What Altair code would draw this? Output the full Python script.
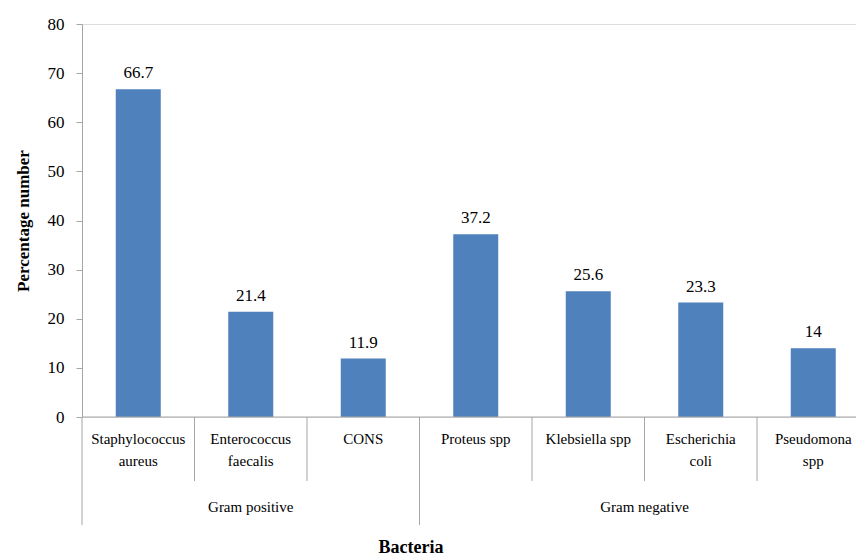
import altair as alt
import pandas as pd

categories = ["Staphylococcus\naureus", "Enterococcus\nfaecalis", "CONS", "Proteus spp",
              "Klebsiella spp", "Escherichia\ncoli", "Pseudomona\nspp"]
values = [66.7, 21.4, 11.9, 37.2, 25.6, 23.3, 14]
value_labels = ["66.7", "21.4", "11.9", "37.2", "25.6", "23.3", "14"]
groups = ["Gram positive", "Gram negative"]
group_first = [0, 3]
group_count = [3, 4]

FONT = "Liberation Serif"
GRAY = "#A6A6A6"
BLUE = "#4F81BD"

df = pd.DataFrame({"cat": categories, "value": values, "label": value_labels,
                   "idx": list(range(len(categories)))})
gdf = pd.DataFrame({"group": groups, "first": group_first, "count": group_count})
cat_bounds = pd.DataFrame({"b": [i for i in range(1, len(categories)) if i not in group_first]})
grp_bounds = pd.DataFrame({"b": group_first + [len(categories)]})

xs = alt.Scale(domain=[0, 6.88], nice=False, zero=False)
ys = alt.Scale(domain=[0, 80], nice=False)

base = alt.Chart(df).transform_calculate(
    lo="datum.idx + 0.3", hi="datum.idx + 0.7", mid="datum.idx + 0.5")

bars = base.mark_bar(color=BLUE).encode(
    x=alt.X("lo:Q", scale=xs, axis=None),
    x2="hi:Q",
    y=alt.Y("value:Q", scale=ys, title="Percentage number",
            axis=alt.Axis(values=list(range(0, 81, 10)), grid=False, domainColor=GRAY,
                          tickColor=GRAY, tickSize=6, labelFont=FONT, labelFontSize=17,
                          labelColor="black", labelPadding=12, titleFont=FONT,
                          titleFontSize=17, titleFontWeight="bold", titleColor="black",
                          titlePadding=15)),
    y2=alt.datum(0),
)

vals = base.mark_text(font=FONT, fontSize=17, color="black", baseline="alphabetic", dy=-11).encode(
    x=alt.X("mid:Q", scale=xs), y=alt.Y("value:Q", scale=ys), text="label:N")

catlab = base.mark_text(font=FONT, fontSize=15, color="black", baseline="top",
                        lineBreak="\n", lineHeight=22).encode(
    x=alt.X("mid:Q", scale=xs), y=alt.value(408), text="cat:N")

baseline = alt.Chart(grp_bounds).mark_rule(color=GRAY).encode(
    x=alt.X("min(b):Q", scale=xs), x2="max(b):Q", y=alt.value(393))

short = alt.Chart(cat_bounds).mark_rule(color=GRAY).encode(
    x=alt.X("b:Q", scale=xs), y=alt.value(393), y2=alt.value(457))

long = alt.Chart(grp_bounds).mark_rule(color=GRAY).encode(
    x=alt.X("b:Q", scale=xs), y=alt.value(393), y2=alt.value(501))

glab = alt.Chart(gdf).transform_calculate(c="datum.first + datum.count / 2").mark_text(
    font=FONT, fontSize=15, color="black", baseline="middle").encode(
    x=alt.X("c:Q", scale=xs), y=alt.value(483), text="group:N")

xtitle = alt.Chart(pd.DataFrame({"t": ["Bacteria"]})).mark_text(
    font=FONT, fontSize=18, fontWeight="bold", color="black", baseline="middle").encode(
    x=alt.value(329), y=alt.value(524), text="t:N")

chart = alt.layer(bars, vals, catlab, baseline, short, long, glab, xtitle).properties(
    width=774, height=393,
    autosize=alt.AutoSizeParams(type="none"),
    padding={"left": 82, "top": 24, "right": 0, "bottom": 139},
).configure_view(stroke=None).configure(background="white", font=FONT)

chart.save("out.html", embed_options={"renderer": "svg", "actions": False})
